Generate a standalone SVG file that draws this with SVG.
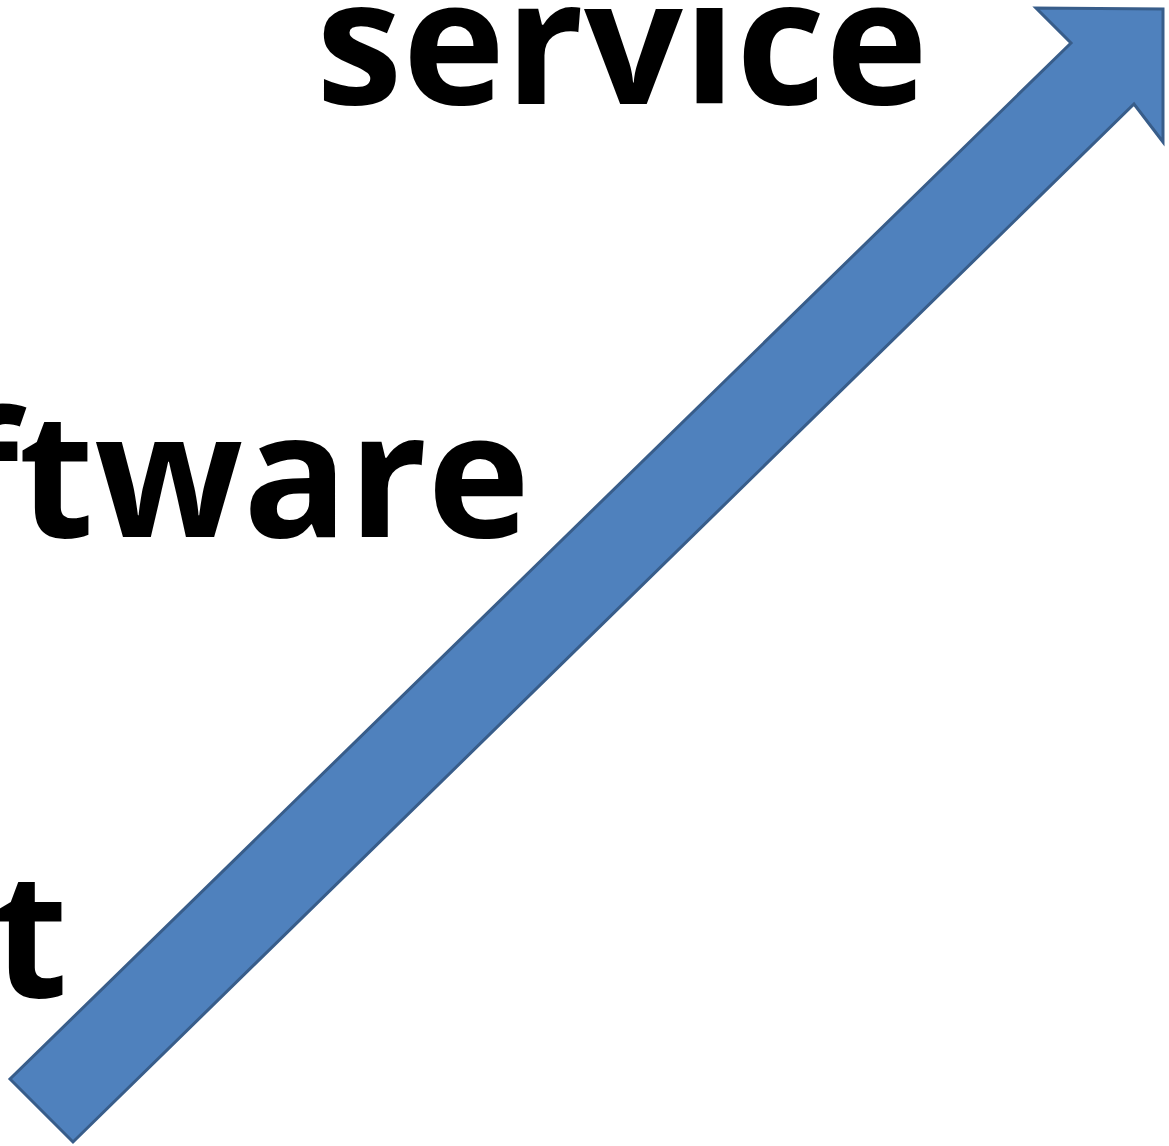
<svg xmlns="http://www.w3.org/2000/svg" width="1169" height="1146" viewBox="0 0 1169 1146">
<style>
.lbl{font-family:"Open Sans","Noto Sans","Liberation Sans",sans-serif;font-weight:700;font-size:174px;fill:#000}
.arrow{fill:#4F81BD;stroke:#385D8A;stroke-width:3;stroke-linejoin:miter}
</style>
<rect width="1169" height="1146" fill="#fff"/>
<g id="label-service"><text class="lbl" x="316" y="104" textLength="612" lengthAdjust="spacingAndGlyphs">service</text></g>
<g id="label-software"><text class="lbl" x="530" y="537" text-anchor="end">ftware</text></g>
<g id="label-t"><text class="lbl" x="68" y="997" text-anchor="end">t</text></g>
<g id="connectors">
<polygon class="arrow" points="10,1079 73,1142 1134,104 1163,142 1163,9 1036,8 1071,43"/>
</g>
</svg>
